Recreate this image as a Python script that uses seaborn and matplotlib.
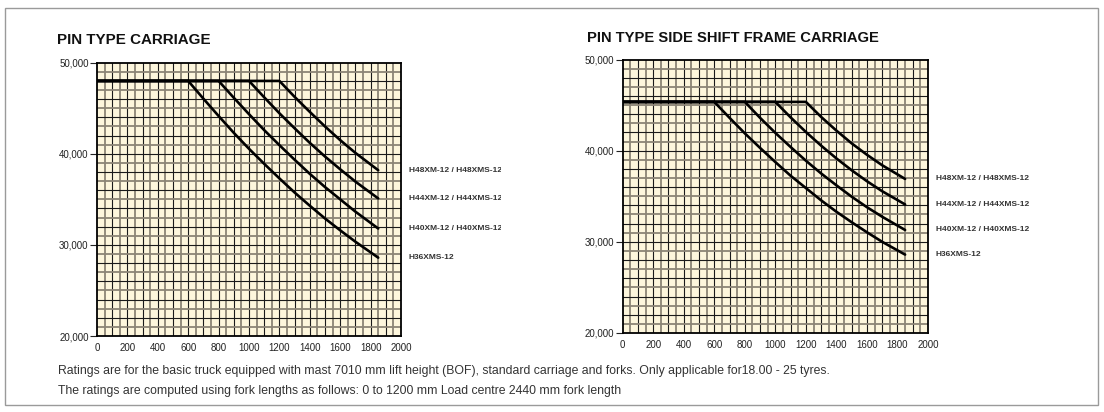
import numpy as np
import pandas as pd
import matplotlib
matplotlib.use("Agg")
import matplotlib.pyplot as plt
import seaborn as sns
from matplotlib.patches import Rectangle
from matplotlib.transforms import Bbox

sns.set_theme(style="white")
plt.rcParams['font.family'] = ['Liberation Sans', 'DejaVu Sans']

# load centre (mm) vs capacity (kg)
models = ["H48XM-12 / H48XMS-12", "H44XM-12 / H44XMS-12",
          "H40XM-12 / H40XMS-12", "H36XMS-12"]

x48 = [0, 1200, 1300, 1400, 1500, 1600, 1700, 1850]
x44 = [0, 1000, 1100, 1200, 1300, 1400, 1500, 1600, 1700, 1850]
x40 = [0, 800, 900, 1000, 1100, 1200, 1300, 1400, 1500, 1600, 1700, 1850]
x36 = [0, 600, 700, 800, 900, 1000, 1100, 1200, 1300, 1400, 1500, 1600, 1700, 1850]

pin_x = {models[0]: x48, models[1]: x44, models[2]: x40, models[3]: x36}
pin_y = {
    models[0]: [48000, 48000, 46250, 44600, 43000, 41500, 40100, 38200],
    models[1]: [48000, 48000, 46200, 44450, 42800, 41200, 39700, 38300, 36950, 35100],
    models[2]: [48000, 48000, 46150, 44350, 42600, 40950, 39350, 37800, 36350, 35000, 33650, 31800],
    models[3]: [48000, 48000, 46050, 44150, 42300, 40550, 38900, 37300, 35750, 34300, 32900, 31600, 30350, 28600],
}

ss_x = {models[0]: x48, models[1]: x44, models[2]: x40, models[3]: x36}
ss_y = {
    models[0]: [45350, 45350, 43700, 42200, 40800, 39550, 38400, 36900],
    models[1]: [45350, 45350, 43650, 42050, 40550, 39150, 37850, 36650, 35550, 34100],
    models[2]: [45350, 45350, 43600, 41950, 40400, 38900, 37500, 36200, 34950, 33800, 32750, 31300],
    models[3]: [45350, 45350, 43600, 41900, 40300, 38750, 37250, 35900, 34550, 33300, 32150, 31050, 30000, 28600],
}

x_ticks = [0, 200, 400, 600, 800, 1000, 1200, 1400, 1600, 1800, 2000]
y_ticks = [20000, 30000, 40000, 50000]
y_labels = ["20,000", "30,000", "40,000", "50,000"]

notes = [
    "Ratings are for the basic truck equipped with mast 7010 mm lift height (BOF), standard carriage and forks. Only applicable for18.00 - 25 tyres.",
    "The ratings are computed using fork lengths as follows: 0 to 1200 mm Load centre 2440 mm fork length",
]

fig = plt.figure(figsize=(11.04, 4.12), dpi=100)
W, H = 1104, 412


def px_axes(l, t, r, b):
    return fig.add_axes([l / W, 1 - b / H, (r - l) / W, (b - t) / H])


def draw_panel(ax, xs, ys, label_clip):
    ax.set_facecolor("#fdf6dc")
    # grid, alternating grey / black lines
    for i, gx in enumerate(np.arange(50, 2000, 50)):
        if i % 2 == 0:
            ax.axvline(gx, color="#8c8476", lw=1.3, zorder=1)
        else:
            ax.axvline(gx, color="#1a1a1a", lw=0.8, zorder=1)
    for i, gy in enumerate(np.arange(21000, 50000, 1000)):
        if i % 2 == 0:
            ax.axhline(gy, color="#8c8476", lw=1.3, zorder=1)
        else:
            ax.axhline(gy, color="#1a1a1a", lw=0.8, zorder=1)

    for m in models:
        df = pd.DataFrame({"x": xs[m], "y": ys[m]})
        sns.lineplot(data=df, x="x", y="y", ax=ax, color="black", lw=1.9,
                     sort=False, estimator=None, zorder=3)
        t = ax.text(2050, ys[m][-1], m, fontsize=6.0, fontweight="bold",
                    color="#333333", va="center", ha="left", clip_on=False)
        if label_clip is not None:
            t.set_clip_box(Bbox.from_extents(0, 0, label_clip, H))
            t.set_clip_on(True)

    ax.set_xlim(0, 2000)
    ax.set_ylim(20000, 50000)
    ax.set_xticks(x_ticks)
    ax.set_xticklabels([str(v) for v in x_ticks])
    ax.set_yticks(y_ticks)
    ax.set_yticklabels(y_labels)
    ax.tick_params(axis="x", length=0, labelsize=7, pad=5, colors="#222222")
    ax.tick_params(axis="y", length=5, width=0.8, labelsize=7, pad=1,
                   colors="#222222", left=True)
    ax.set_xlabel("")
    ax.set_ylabel("")
    for s in ax.spines.values():
        s.set_color("black")
        s.set_linewidth(1.3)
        s.set_zorder(4)


ax1 = px_axes(97, 62.7, 401, 336)
draw_panel(ax1, pin_x, pin_y, 501)

ax2 = px_axes(622.7, 59.5, 928, 333)
draw_panel(ax2, ss_x, ss_y, None)

fig.text(57 / W, 1 - 44 / H, "PIN TYPE CARRIAGE", fontsize=10.9,
         fontweight="bold", color="#111111", ha="left", va="baseline")
fig.text(587 / W, 1 - 42 / H, "PIN TYPE SIDE SHIFT FRAME CARRIAGE",
         fontsize=10.6, fontweight="bold", color="#111111", ha="left",
         va="baseline")

fig.text(58 / W, 1 - 371 / H, notes[0], fontsize=8.8, color="#333333",
         va="center", ha="left")
fig.text(58 / W, 1 - 391 / H, notes[1], fontsize=8.8, color="#333333",
         va="center", ha="left")

fig.patches.append(Rectangle((5 / W, 1 - 405 / H), 1093 / W, 397 / H,
                             transform=fig.transFigure, fill=False,
                             edgecolor="#9a9a9a", lw=1.0))

fig.savefig("out.png", dpi=100)
